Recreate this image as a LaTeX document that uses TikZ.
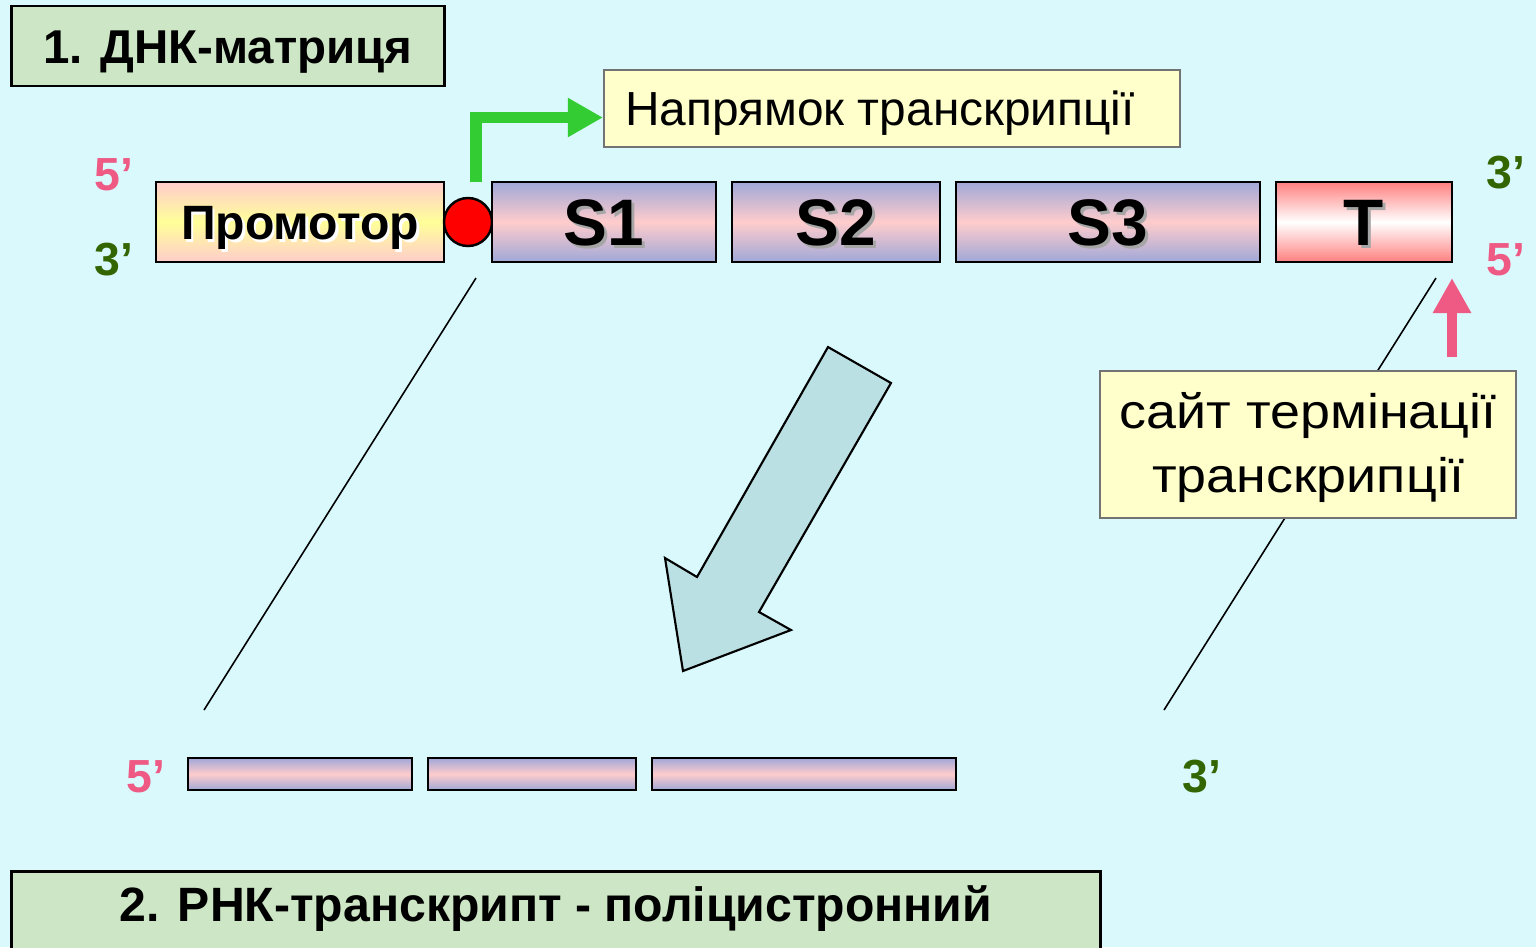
\documentclass[tikz,border=0pt]{standalone}
\usepackage{fontspec}
\setmainfont{Liberation Sans}
\newfontfamily\widefont[FakeStretch=1.11]{Liberation Sans}
\usepackage{tikz}
\usetikzlibrary{positioning,arrows.meta,calc}
\usepackage{xcolor}
\definecolor{bgcyan}{RGB}{217,249,253}
\definecolor{titlegreen}{RGB}{205,230,197}
\definecolor{noteyellow}{RGB}{255,255,204}
\definecolor{genblue}{RGB}{160,168,216}
\definecolor{genpink}{RGB}{255,204,204}
\definecolor{promyellow}{RGB}{255,255,153}
\definecolor{termred}{RGB}{255,128,128}
\definecolor{pink5}{RGB}{238,90,132}
\definecolor{green3}{RGB}{51,102,0}
\definecolor{dirgreen}{RGB}{51,204,51}
\definecolor{blockcyan}{RGB}{187,224,227}
\newcommand{\shadowed}[2][black!35]{\makebox[0pt][l]{\hspace{0.8pt}\raisebox{-0.8pt}{\textcolor{#1}{#2}}}#2}

\begin{document}
\begin{tikzpicture}[x=0.01cm,y=-0.01cm,
    titlebox/.style={draw,line width=0.8pt,fill=titlegreen,inner sep=0pt,text height=9.7pt,text depth=0pt,font=\fontsize{13.5}{15}\selectfont\bfseries},
    notebox/.style={draw=black!55,line width=0.5pt,fill=noteyellow,inner sep=0pt,align=center,font=\fontsize{13.6}{18.2}\selectfont},
    gene/.style={draw,line width=0.7pt,inner sep=0pt,minimum height=0.8cm,text height=13.4pt,text depth=0pt,top color=genblue,bottom color=genblue,middle color=genpink,font=\fontsize{18.7}{20}\selectfont\bfseries},
    strip/.style={gene,minimum height=0.32cm,text height=0pt},
    end5/.style={text=pink5,font=\fontsize{13.2}{15}\selectfont\bfseries},
    end3/.style={text=green3,font=\fontsize{13.2}{15}\selectfont\bfseries},
    zoomline/.style={line width=0.45pt}]
  \path[use as bounding box,fill=bgcyan] (0,0) rectangle (1536,947);

  \node[titlebox,minimum width=4.32cm,minimum height=0.8cm] (dnk) at (228,46) {1. ДНК-матриця};
  \node[notebox,minimum width=5.76cm,minimum height=0.77cm,text height=9.7pt,text depth=0pt] (dir) at (892,108.5) {\hspace*{-0.24cm}Напрямок транскрипції};

  \node[gene,minimum width=2.88cm,top color=genpink,bottom color=genpink,middle color=promyellow,text height=9.8pt,font=\fontsize{13.7}{15}\selectfont\bfseries] (prom) at (300,222) {\shadowed[white]{Промотор}};
  \node[draw,circle,fill=red,line width=0.7pt,inner sep=0pt,minimum size=0.48cm] (circ) at (468,222) {};
  \node[gene,minimum width=2.24cm] (s1) at (604,222) {\shadowed{S1}};
  \node[gene,minimum width=2.08cm] (s2) at (836,222) {\shadowed{S2}};
  \node[gene,minimum width=3.04cm] (s3) at (1108,222) {\shadowed{S3}};
  \node[gene,minimum width=1.76cm,top color=termred,bottom color=termred,middle color=white] (t) at (1364,222) {\shadowed{T}};

  \node[end5] (l5) at (114,175) {5’};
  \node[end3] (l3) at (114,260) {3’};
  \node[end3] (r3) at (1506,173) {3’};
  \node[end5] (r5) at (1506,260) {5’};

  \coordinate (tss) at (476,182);
  \draw[dirgreen,line width=3.3pt,-{Triangle[length=10pt,width=10.5pt]}] (tss) |- ($(dir.west)+(0,9)$);

  \coordinate (za) at (476,278);
  \coordinate (zb) at (204,710);
  \coordinate (zc) at (1436,278);
  \coordinate (zd) at (1164,710);
  \draw[zoomline] (za) -- (zb);
  \draw[zoomline] (zc) -- (zd);

  \node[notebox,anchor=north,minimum width=4.16cm,text height=34.7pt,text depth=7.1pt,font=\widefont\fontsize{13.8}{18.2}\selectfont] (term) at (1308,370) {сайт термінації\\транскрипції};
  \coordinate (ttail) at (1452,357);
  \coordinate (ttip) at (1452,278);
  \draw[pink5,line width=3.1pt,-{Triangle[length=10pt,width=10.3pt]}] (ttail) -- (ttip);

  \draw[fill=blockcyan,line width=0.6pt,line join=miter] (828,347) -- (891,383) -- (759,612) -- (791,630)
    -- (683,671) -- (665,558) -- (697,577) -- cycle;

  \node[strip,minimum width=2.24cm] (m1) at (300,774) {};
  \node[strip,minimum width=2.08cm] (m2) at (532,774) {};
  \node[strip,minimum width=3.04cm] (m3) at (804,774) {};
  \node[end5] (m5) at (146,777) {5’};
  \node[end3] (m3e) at (1202,777) {3’};

  \node[titlebox,anchor=north,minimum width=10.88cm,text height=14.3pt,text depth=11.1pt,font=\fontsize{13.7}{15}\selectfont\bfseries] (rnk) at (556,870) {2. РНК-транскрипт - поліцистронний};
\end{tikzpicture}
\end{document}
